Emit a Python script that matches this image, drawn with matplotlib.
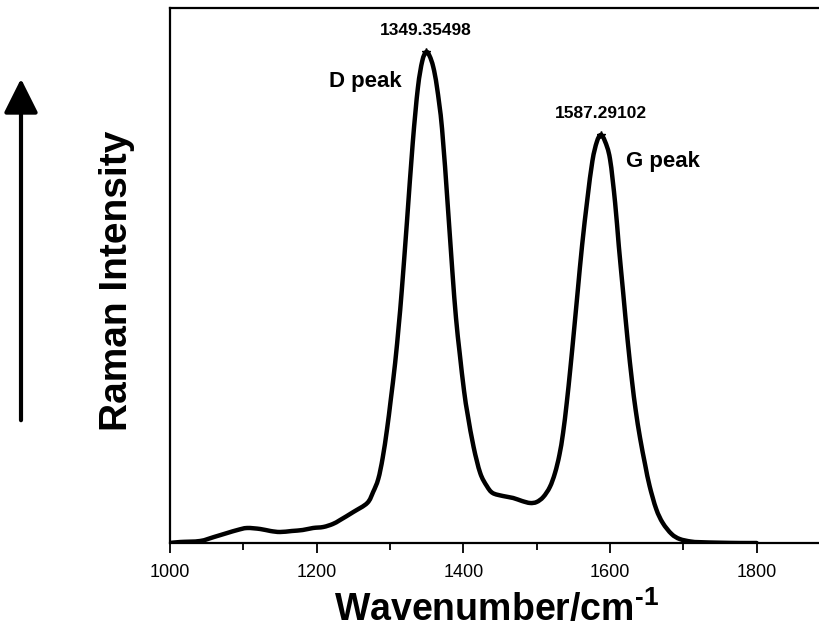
import matplotlib
matplotlib.use("Agg")
import matplotlib.pyplot as plt
from matplotlib.path import Path
from matplotlib.patches import PathPatch, FancyArrowPatch
from matplotlib.ticker import MultipleLocator

# Raman spectrum (arbitrary intensity units)
wavenumber = [1000, 1014, 1041, 1060, 1078, 1092, 1105, 1123, 1137, 1150, 1166,
              1181, 1195, 1209, 1222, 1232, 1250, 1269, 1277, 1284, 1290, 1296,
              1301, 1307, 1312, 1316, 1323, 1331, 1338, 1344, 1349.35, 1354,
              1359, 1364, 1371, 1379, 1385, 1390, 1395, 1401, 1406, 1414, 1423,
              1432, 1440, 1454, 1468, 1480, 1491, 1500, 1509, 1518, 1525, 1531,
              1536, 1541, 1546, 1551, 1556, 1562, 1569, 1576, 1582, 1587.29,
              1593, 1600, 1607, 1612, 1618, 1624, 1630, 1635, 1641, 1648, 1654,
              1663, 1672, 1684, 1695, 1710, 1723, 1750, 1777, 1800]
intensity = [0, 1, 2, 6, 10, 13, 15, 14, 12, 11, 12,
             13, 15, 16, 19, 23, 31, 40, 51, 64, 85, 114,
             143, 180, 218, 252, 320, 400, 455, 482, 491, 487,
             476, 456, 414, 335, 272, 225, 190, 152, 128, 96, 70,
             57, 50, 47, 45, 42, 40, 41, 46, 56, 70, 88,
             110, 140, 175, 213, 252, 298, 343, 382, 401, 408,
             402, 384, 340, 297, 250, 203, 162, 133, 105, 78, 57,
             34, 20, 9, 4, 1.5, 0.8, 0.3, 0, 0]

peak_positions = [1349.35498, 1587.29102]
peak_heights = [491, 408]
peak_names = ["D peak", "G peak"]

plt.rcParams["font.family"] = ["Liberation Sans", "DejaVu Sans"]
plt.rcParams["mathtext.fontset"] = "custom"
plt.rcParams["mathtext.rm"] = "Liberation Sans:bold"
plt.rcParams["mathtext.bf"] = "Liberation Sans:bold"


def smooth_path(xs, ys):
    """Cubic Bezier path passing through every sample (Catmull-Rom tangents)."""
    pts = list(zip(xs, ys))
    n = len(pts)
    verts = [pts[0]]
    codes = [Path.MOVETO]
    for i in range(n - 1):
        p0 = pts[max(i - 1, 0)]
        p1 = pts[i]
        p2 = pts[i + 1]
        p3 = pts[min(i + 2, n - 1)]
        c1 = (p1[0] + (p2[0] - p0[0]) / 6, p1[1] + (p2[1] - p0[1]) / 6)
        c2 = (p2[0] - (p3[0] - p1[0]) / 6, p2[1] - (p3[1] - p1[1]) / 6)
        verts += [c1, c2, p2]
        codes += [Path.CURVE4] * 3
    return Path(verts, codes)


W, H = 819, 633
fig = plt.figure(figsize=(W / 100, H / 100), dpi=100)
ax = fig.add_axes([170 / W, 1 - 543 / H, 660 / W, 535 / H])

ax.add_patch(PathPatch(smooth_path(wavenumber, intensity), facecolor="none",
                       edgecolor="black", lw=3.2, capstyle="round",
                       joinstyle="round"))
ax.plot(peak_positions, peak_heights, linestyle="none", marker="*",
        color="black", markersize=6)

for xp, yp in zip(peak_positions, peak_heights):
    ax.annotate(f"{xp:.5f}", xy=(xp, yp), xytext=(0, 10),
                textcoords="offset points", ha="center", va="bottom",
                fontsize=12.5, fontweight="bold")

ax.text(1266, 461, peak_names[0], ha="center", va="center",
        fontsize=16, fontweight="bold")
ax.text(1672, 381, peak_names[1], ha="center", va="center",
        fontsize=16, fontweight="bold")

ax.set_xlim(1000, 1900)
ax.set_ylim(0, 535)
ax.xaxis.set_major_locator(MultipleLocator(200))
ax.xaxis.set_minor_locator(MultipleLocator(100))
ax.set_yticks([])
ax.tick_params(axis="x", which="major", direction="out", length=7, width=1.3,
               labelsize=13, pad=8)
ax.tick_params(axis="x", which="minor", direction="out", length=5, width=1.3)
for s in ax.spines.values():
    s.set_linewidth(1.6)

fig.text(497 / W, 1 - 621 / H, r"Wavenumber/cm$^{\text{-1}}$", ha="center",
         va="baseline", fontsize=27, fontweight="bold")
fig.text(117 / W, 1 - 281 / H, "Raman Intensity", rotation=90, ha="center",
         va="center", fontsize=28, fontweight="bold")

# upward arrow beside the intensity label
fig.add_artist(FancyArrowPatch(
    (21 / W, 1 - 423 / H), (21 / W, 1 - 76 / H), transform=fig.transFigure,
    arrowstyle="-|>,head_length=1.5,head_width=0.75", mutation_scale=14,
    lw=3, color="black"))

fig.savefig("out.png", dpi=100)
